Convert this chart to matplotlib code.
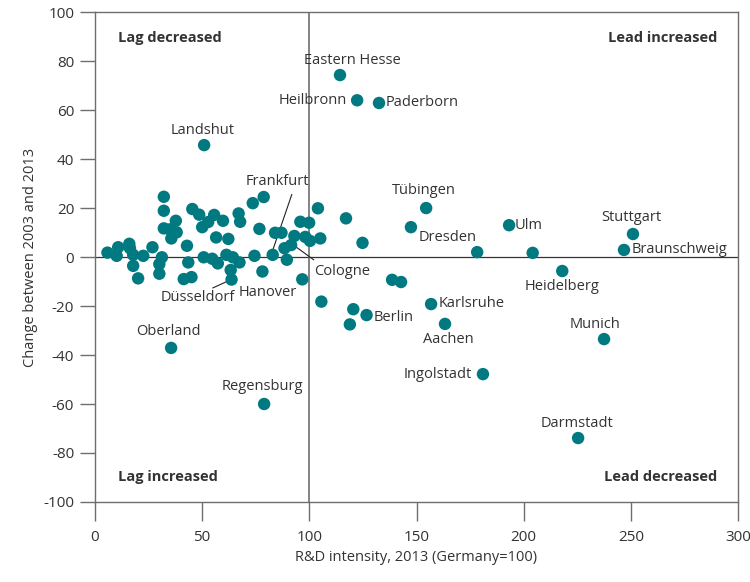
# Scatter of R&D intensity vs change between 2003 and 2013, German regions

import numpy as np
import matplotlib.pyplot as plt

plt.rcParams['font.family'] = ['Open Sans', 'DejaVu Sans']
plt.rcParams['axes.unicode_minus'] = False

# unlabelled regions
x_other = [5.8, 10.1, 10.8, 16.0, 16.3, 17.8, 17.8, 20.1, 22.5, 26.8, 31.2, 30.0,
           30.0, 32.1, 32.1, 32.1, 34.9, 35.6, 37.7, 38.1, 42.9, 43.5, 41.4, 45.0,
           45.4, 48.6, 50.0, 52.8, 55.6, 56.5, 50.7, 54.7, 57.3, 59.7, 62.2, 61.3,
           64.3, 67.4, 63.3, 67.0, 67.7, 73.6, 78.7, 76.7, 84.0, 87.0, 93.0, 95.8,
           99.9, 104.0, 98.1, 105.1, 100.3, 88.4, 74.4, 89.5, 96.7, 105.6, 117.1,
           124.8, 120.5, 118.9, 138.6, 142.8, 147.4, 204.2]
y_other = [1.8, 0.5, 4.0, 5.4, 3.6, 0.9, -3.6, -8.7, 0.5, 4.0, -0.1, -2.9,
           -6.8, 24.6, 18.9, 11.7, 11.3, 7.6, 14.8, 10.1, 4.6, -2.2, -9.0, -8.2,
           19.6, 17.3, 12.2, 14.3, 17.2, 8.0, -0.1, -0.7, -2.6, 14.8, 7.4, 0.9,
           -0.1, -2.2, -5.3, 17.8, 14.4, 22.0, 24.5, 11.5, 9.9, 9.9, 8.6, 14.4,
           14.0, 19.9, 8.2, 7.6, 6.6, 3.6, 0.5, -1.1, -9.1, -18.2, 15.8,
           5.8, -21.3, -27.5, -9.3, -10.2, 12.2, 1.7]

# labelled regions
names = ['Eastern Hesse', 'Heilbronn', 'Paderborn', 'Landshut', 'Frankfurt', 'Tübingen',
         'Ulm', 'Dresden', 'Stuttgart', 'Braunschweig', 'Heidelberg', 'Karlsruhe',
         'Aachen', 'Berlin', 'Munich', 'Ingolstadt', 'Darmstadt', 'Regensburg',
         'Oberland', 'Düsseldorf', 'Hanover', 'Cologne']
x_named = [114.3, 122.3, 132.5, 50.9, 82.9, 154.5, 193.2, 178.3, 251.0, 246.8, 218.0,
           156.8, 163.3, 126.7, 237.5, 181.0, 225.4, 78.9, 35.5, 63.7, 78.1, 91.5]
y_named = [74.3, 64.0, 62.9, 45.7, 0.9, 20.0, 13.0, 2.0, 9.4, 2.9, -5.7,
           -19.2, -27.3, -23.7, -33.5, -47.8, -73.9, -60.0, -37.1, -9.2, -5.9, 4.9]

teal = '#007a80'
grey = '#6e6e6e'

fig = plt.figure(figsize=(7.5, 5.82), dpi=100)
ax = fig.add_axes([0.1267, 0.1375, 0.8573, 0.8417])

ax.scatter(x_other, y_other, s=80, color=teal, edgecolors='none', zorder=3)
ax.scatter(x_named, y_named, s=80, color=teal, edgecolors='none', zorder=3)

ax.axhline(0, color='#333333', lw=0.9, zorder=1)
ax.axvline(100, color=grey, lw=1.2, zorder=1)

ax.set_xlim(0, 300)
ax.set_ylim(-100, 100)
ax.set_xticks(np.arange(0, 301, 50))
ax.set_yticks(np.arange(-100, 101, 20))
for s in ax.spines.values():
    s.set_color(grey)
    s.set_linewidth(1.0)
ax.tick_params(axis='y', length=11, width=1, color=grey, labelsize=11, labelcolor='#333333', pad=4)
ax.tick_params(axis='x', length=14, width=1, color=grey, labelsize=11, labelcolor='#333333', pad=6)
ax.set_xlabel('R&D intensity, 2013 (Germany=100)', fontsize=10.5, color='#333333', labelpad=4)
ax.set_ylabel('Change between 2003 and 2013', fontsize=10.5, color='#333333', labelpad=4)

tc = '#333333'
fs = 10.5
ax.text(10.7, 89.3, 'Lag decreased', fontsize=fs, fontweight='bold', color=tc, va='center')
ax.text(290.5, 89.3, 'Lead increased', fontsize=fs, fontweight='bold', color=tc, va='center', ha='right')
ax.text(10.7, -90, 'Lag increased', fontsize=fs, fontweight='bold', color=tc, va='center')
ax.text(290.5, -90, 'Lead decreased', fontsize=fs, fontweight='bold', color=tc, va='center', ha='right')

# label text positions (data coords) and alignment
lab_x = [120.0, 117.7, 135.8, 50.2, 85.1, 153.5, 195.8, 164.7, 250.2, 250.2, 217.7,
         160.5, 164.7, 130.2, 233.5, 175.8, 224.7, 78.1, 34.4, 47.9, 80.5, 102.3]
lab_y = [80.3, 64.0, 63.0, 51.8, 31.0, 27.3, 13.0, 8.0, 16.3, 2.9, -12.2,
         -18.8, -33.8, -24.5, -27.7, -48.1, -68.0, -53.0, -30.2, -16.7, -14.3, -5.7]
lab_ha = ['center', 'right', 'left', 'center', 'center', 'center', 'left', 'center',
          'center', 'left', 'center', 'left', 'center', 'left', 'center', 'right',
          'center', 'center', 'center', 'center', 'center', 'left']
for n, lx, ly, ha in zip(names, lab_x, lab_y, lab_ha):
    ax.text(lx, ly, n, fontsize=fs, color=tc, ha=ha, va='center', zorder=4)

# leader lines
ax.plot([83.0, 91.8], [3.0, 25.5], color='#222222', lw=0.8, zorder=2)
ax.plot([93.5, 102.0], [4.3, -1.1], color='#222222', lw=0.8, zorder=2)
ax.plot([55.0, 62.5], [-12.6, -9.6], color='#222222', lw=0.8, zorder=2)

fig.savefig('out.png', dpi=100)
